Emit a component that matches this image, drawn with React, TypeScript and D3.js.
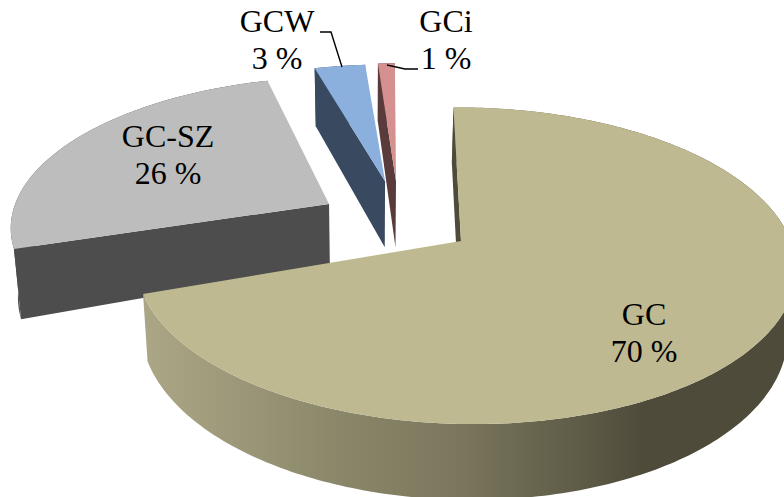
import React from "react";
import * as d3 from "d3";

const categories = ["GC", "GC-SZ", "GCW", "GCi"];
const percents = [70, 26, 3, 1];
const topColors = ["#BEB991", "#BDBDBD", "#8BB0DE", "#D59090"];
const wallColors = ["#4E4B3B", "#4D4D4D", "#384960", "#5A3B3B"];
const drawOrder = [1, 2, 3, 0];

// exploded placement of every slice on the pie's plane (unit = one radius)
const apexes = [[0, 0], [-0.4115, -0.247], [-0.237, -0.408], [-0.2016, -0.408]];
const rimCentres = [[0.012, 0], [-0.413, -0.272], [-0.245, -0.378], [-0.198, -0.39]];
const radii = [0.99, 0.99, 1, 1];
const apexDepth = [1, 1, 1.1, 1.1];
const rimDepth = [1, 1.09, 1.1, 1.1];

// labels
const labelX = [644, 168, 277, 446];
const labelY = [325, 147, 32, 32];
const LINE = 36.5;

// leader lines
const leaders = [
  [[320, 32], [331, 32], [342, 67]],
  [[387, 65], [405, 69], [418, 69]],
];

// projection of the tilted pie
const X0 = 461, Y0 = 241, A = 329, B = 156, K = 0.158, SHEAR = 7;
const DEPTH = 64, XB = 370, XSCALE = 0.98;
const project = (u: number, v: number, depth = 0): [number, number] => {
  const d = 1 - K * v;
  let x = X0 + (A * u + SHEAR * v) / d;
  let y = Y0 + (B * v) / d;
  if (depth > 0) {
    x = XB + (x - XB) * XSCALE;
    y += (DEPTH * depth) / d;
  }
  return [x, y];
};

const ROT = (-1 * Math.PI) / 180;
const arcs = d3
  .pie<number>()
  .sort(null)
  .startAngle(ROT)
  .endAngle(2 * Math.PI + ROT)(percents);

const lineGen = d3.line<[number, number]>();

export default function App() {
  const pieces = arcs.map((a, i) => {
    const n = Math.max(4, Math.ceil((a.endAngle - a.startAngle) * 60));
    const angles = d3.range(n + 1).map((k) => a.startAngle + ((a.endAngle - a.startAngle) * k) / n);
    const [au, av] = apexes[i];
    const [cu, cv] = rimCentres[i];
    const r = radii[i];
    const rim = (depth: number) =>
      angles.map((t) => project(cu + r * Math.sin(t), cv - r * Math.cos(t), depth));
    const topRim = rim(0);
    const lowRim = rim(rimDepth[i]);
    const apexTop = project(au, av);
    const apexLow = project(au, av, apexDepth[i]);
    return {
      i,
      top: lineGen([apexTop, ...topRim])! + "Z",
      wall: lineGen([...topRim, ...lowRim.slice().reverse()])! + "Z",
      startWall: lineGen([apexTop, topRim[0], lowRim[0], apexLow])! + "Z",
    };
  });

  return (
    <svg
      width={784}
      height={497}
      viewBox="0 0 784 497"
      style={{ position: "absolute", left: 0, top: 0, background: "#fff" }}
    >
      <defs>
        <linearGradient id="gcSide" gradientUnits="userSpaceOnUse" x1={143} y1={0} x2={784} y2={0}>
          <stop offset="0" stopColor="#ABA786" />
          <stop offset="0.3" stopColor="#8B876A" />
          <stop offset="0.5" stopColor="#7A765C" />
          <stop offset="0.68" stopColor="#5E5B47" />
          <stop offset="0.78" stopColor="#4E4B3B" />
          <stop offset="1" stopColor="#4E4B3B" />
        </linearGradient>
      </defs>
      {drawOrder.map((i) => {
        const p = pieces[i];
        return (
          <g key={categories[i]}>
            <path d={p.wall} fill={i === 0 ? "url(#gcSide)" : wallColors[i]} />
            <path d={p.startWall} fill={wallColors[i]} />
            <path d={p.top} fill={topColors[i]} />
          </g>
        );
      })}
      {leaders.map((l, i) => (
        <path key={i} d={lineGen(l as [number, number][])!} fill="none" stroke="#000" strokeWidth={1.4} />
      ))}
      {categories.map((c, i) => (
        <text
          key={c}
          fontFamily="'Liberation Serif', serif"
          fontSize={32}
          fill="#000"
          textAnchor="middle"
        >
          <tspan x={labelX[i]} y={labelY[i]}>{c}</tspan>
          <tspan x={labelX[i]} y={labelY[i] + LINE}>{percents[i]} %</tspan>
        </text>
      ))}
    </svg>
  );
}
